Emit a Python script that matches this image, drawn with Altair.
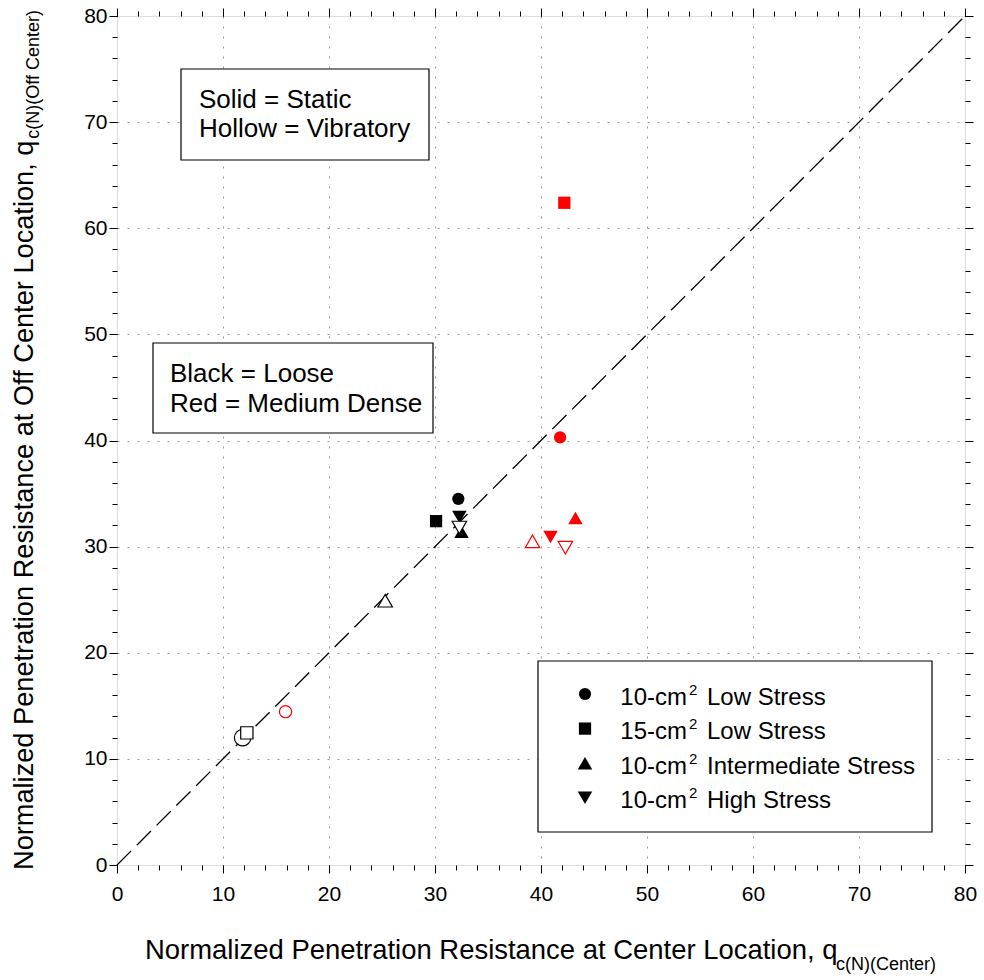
import altair as alt
import pandas as pd

# ---------------- data ----------------
center_q = [32.2, 30.1, 32.3, 32.5, 42.2, 41.8, 43.25, 40.9,
            32.3, 25.3, 11.85, 12.25, 39.2, 42.3, 15.9]
offcenter_q = [34.5, 32.4, 32.8, 31.4, 62.4, 40.3, 32.7, 30.9,
               31.8, 24.9, 12.0, 12.45, 30.5, 29.9, 14.45]
cone = ["10L", "15L", "10H", "10I", "15L", "10L", "10I", "10H",
        "10H", "10I", "10L", "15L", "10I", "10H", "10L"]
density = ["Loose", "Loose", "Loose", "Loose", "Medium Dense", "Medium Dense", "Medium Dense", "Medium Dense",
           "Loose", "Loose", "Loose", "Loose", "Medium Dense", "Medium Dense", "Medium Dense"]
method = ["Static"] * 8 + ["Vibratory"] * 7

legend_keys = ["10L", "15L", "10I", "10H"]
legend_prefix = ["10-cm", "15-cm", "10-cm", "10-cm"]
legend_suffix = ["Low Stress", "Low Stress", "Intermediate Stress", "High Stress"]

ticks_major = [0, 10, 20, 30, 40, 50, 60, 70, 80]
ticks_minor = list(range(0, 81, 2))
grid_vals = [10, 20, 30, 40, 50, 60, 70]

# ---------------- styles ----------------
FONT = "Arial, Liberation Sans"
shape_of = {"10L": "circle", "15L": "square", "10I": "triangle-up", "10H": "triangle-down"}
size_of = {"circle": 150, "square": 150, "triangle-up": 210, "triangle-down": 210}
color_of = {"Loose": "#000000", "Medium Dense": "#ff0000"}

df = pd.DataFrame({"cx": center_q, "cy": offcenter_q, "cone": cone,
                   "density": density, "method": method})
df["shape"] = df["cone"].map(shape_of)
df["color"] = df["density"].map(color_of)
df["size"] = df["shape"].map(size_of)
# the hollow loose 10-cm circle is drawn larger in the original
df.loc[(df["method"] == "Vibratory") & (df["shape"] == "circle") & (df["density"] == "Loose"), "size"] = 270

W, H = 848, 849
xs = alt.Scale(domain=[0, 80], nice=False, zero=False)
ys = alt.Scale(domain=[0, 80], nice=False, zero=False)


def axis_layer(orient_x, orient_y, values, tick, labels):
    ax = dict(values=values, tickSize=tick, tickColor="black", tickWidth=1,
              domain=False, title=None, grid=False, labels=labels)
    ax_x = dict(ax, orient=orient_x)
    ax_y = dict(ax, orient=orient_y)
    if labels:
        ax_x.update(labelFont=FONT, labelFontSize=21, labelColor="black", labelPadding=10, labelFlush=False)
        ax_y.update(labelFont=FONT, labelFontSize=21, labelColor="black", labelPadding=2, labelFlush=False)
    return alt.Chart(df).mark_point(opacity=0).encode(
        x=alt.X("cx:Q", scale=xs, axis=alt.Axis(**ax_x)),
        y=alt.Y("cy:Q", scale=ys, axis=alt.Axis(**ax_y)),
    )


grid_layer = alt.Chart(df).mark_point(opacity=0).encode(
    x=alt.X("cx:Q", scale=xs, axis=alt.Axis(values=grid_vals, orient="bottom", grid=True, gridDash=[2, 8],
                                            gridColor="#9a9a9a", labels=False, ticks=False, domain=False, title=None)),
    y=alt.Y("cy:Q", scale=ys, axis=alt.Axis(values=grid_vals, orient="left", grid=True, gridDash=[2, 8],
                                            gridColor="#9a9a9a", labels=False, ticks=False, domain=False, title=None)),
)

major_bl = axis_layer("bottom", "left", ticks_major, 8, True)
minor_bl = axis_layer("bottom", "left", ticks_minor, 5, False)
major_tr = axis_layer("top", "right", ticks_major, 8, False)
minor_tr = axis_layer("top", "right", ticks_minor, 5, False)

diag = alt.Chart(pd.DataFrame({"a": [0, 80]})).mark_line(
    color="black", strokeWidth=1.3, strokeDash=[20, 8]
).encode(
    x=alt.X("a:Q", scale=xs, axis=None),
    y=alt.Y("a:Q", scale=ys, axis=None),
)

solid = alt.Chart(df[df["method"] == "Static"]).mark_point(filled=True, opacity=1).encode(
    x=alt.X("cx:Q", scale=xs, axis=None),
    y=alt.Y("cy:Q", scale=ys, axis=None),
    shape=alt.Shape("shape:N", scale=None),
    color=alt.Color("color:N", scale=None),
    size=alt.Size("size:Q", scale=None),
)
hollow = alt.Chart(df[df["method"] == "Vibratory"]).mark_point(
    filled=False, fill="white", fillOpacity=1, opacity=1, strokeWidth=1.2
).encode(
    x=alt.X("cx:Q", scale=xs, axis=None),
    y=alt.Y("cy:Q", scale=ys, axis=None),
    shape=alt.Shape("shape:N", scale=None),
    color=alt.Color("color:N", scale=None),
    size=alt.Size("size:Q", scale=None),
)

one = pd.DataFrame({"k": [0]})


def box(x1, y1, x2, y2):
    return alt.Chart(one).mark_rect(fill="white", stroke="black", strokeWidth=1.2).encode(
        x=alt.value(x1), x2=alt.value(x2), y=alt.value(y1), y2=alt.value(y2))


def label(text, x, y, size=26, align="left", angle=0):
    kw = dict(font=FONT, fontSize=size, align=align, baseline="alphabetic", color="black")
    if angle:
        kw["angle"] = angle
    return alt.Chart(one).mark_text(**kw).encode(
        x=alt.value(x), y=alt.value(y), text=alt.value(text))


box1 = box(64, 53, 312, 144)
box2 = box(36, 327, 316, 417)
box3 = box(421, 645, 815, 816)

t1 = label("Solid = Static", 82, 92)
t2 = label("Hollow = Vibratory", 82, 121)
t3 = label("Black = Loose", 53, 366)
t4 = label("Red = Medium Dense", 53, 396)

leg = pd.DataFrame({"i": list(range(4)), "key": legend_keys,
                    "pre": legend_prefix, "suf": legend_suffix})
leg["shape"] = leg["key"].map(shape_of)
leg["size"] = leg["shape"].map(size_of)

leg_base = alt.Chart(leg).transform_calculate(
    ys="678 + datum.i * 34.6", yt="689 + datum.i * 34.3", yu="679 + datum.i * 34.3")
leg_sym = leg_base.mark_point(filled=True, opacity=1, color="black").encode(
    x=alt.value(468), y=alt.Y("ys:Q", scale=None, axis=None),
    shape=alt.Shape("shape:N", scale=None), size=alt.Size("size:Q", scale=None))
leg_pre = leg_base.mark_text(font=FONT, fontSize=24, align="right", baseline="alphabetic", color="black").encode(
    x=alt.value(570), y=alt.Y("yt:Q", scale=None, axis=None), text="pre:N")
leg_sup = leg_base.mark_text(font=FONT, fontSize=15, align="left", baseline="alphabetic", color="black").encode(
    x=alt.value(572), y=alt.Y("yu:Q", scale=None, axis=None), text=alt.value("2"))
leg_suf = leg_base.mark_text(font=FONT, fontSize=24, align="left", baseline="alphabetic", color="black").encode(
    x=alt.value(590), y=alt.Y("yt:Q", scale=None, axis=None), text="suf:N")

xt_main = label("Normalized Penetration Resistance at Center Location, q", 28, 943, size=27.45, align="left")
xt_sub = label("c(N)(Center)", 819, 954, size=18, align="right")
yt_main = label("Normalized Penetration Resistance at Off Center Location, q", -84, 854, size=27.2,
                align="left", angle=270)
yt_sub = label("c(N)(Off Center)", -78, -6, size=18, align="right", angle=270)

chart = alt.layer(
    grid_layer, major_bl, minor_bl, major_tr, minor_tr,
    box1, box2, box3, t1, t2, t3, t4,
    diag, solid, hollow,
    leg_sym, leg_pre, leg_sup, leg_suf,
    xt_main, xt_sub, yt_main, yt_sub,
).resolve_axis(x="independent", y="independent").properties(
    width=W, height=H,
    autosize=alt.AutoSizeParams(type="none"),
    padding={"left": 117, "top": 16, "right": 19, "bottom": 115},
).configure_view(stroke="black", strokeWidth=1.2).configure(background="white")

chart.save("out.html", embed_options={"renderer": "svg", "actions": False})
